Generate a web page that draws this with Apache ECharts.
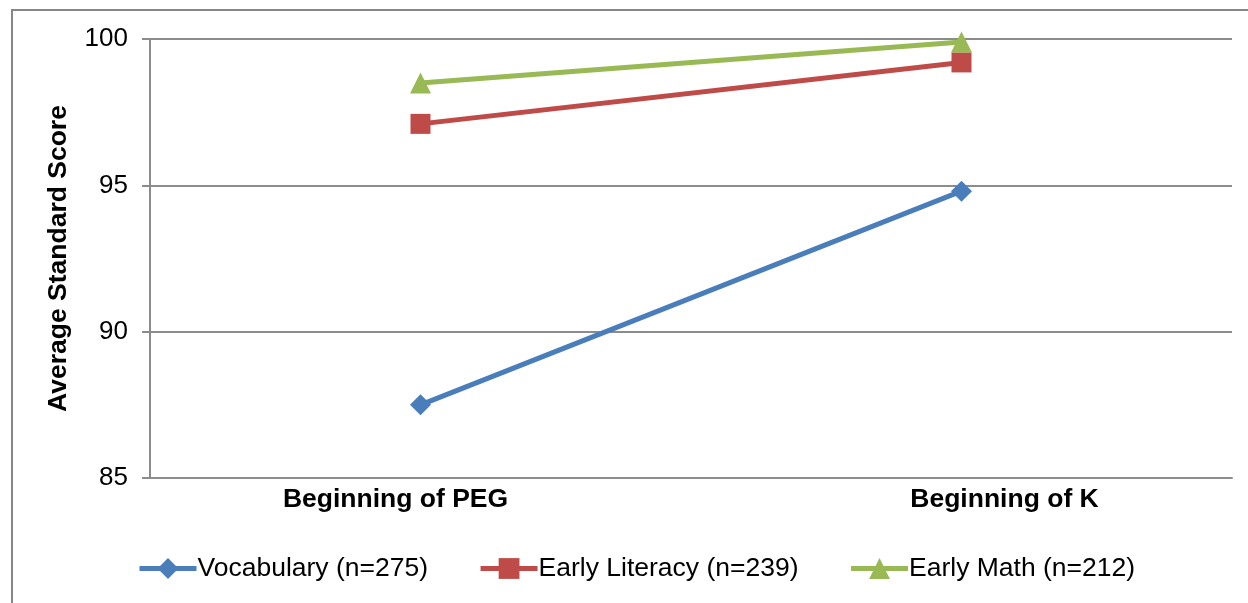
<!DOCTYPE html>
<html>
<head>
<meta charset="utf-8">
<script src="https://cdn.jsdelivr.net/npm/echarts@6/dist/echarts.min.js"></script>
<style>
html,body{margin:0;padding:0;background:#fff;}
#chart{width:1248px;height:603px;}
</style>
</head>
<body>
<div id="chart"></div>
<script>
const categories = ['Beginning of PEG', 'Beginning of K'];
const vocabulary = [87.5, 94.8];
const earlyLiteracy = [97.1, 99.2];
const earlyMath = [98.5, 99.9];
const seriesNames = ['Vocabulary (n=275)', 'Early Literacy (n=239)', 'Early Math (n=212)'];
const yTicks = {min: 85, max: 100, interval: 5};

const chart = echarts.init(document.getElementById('chart'), null, {renderer: 'canvas'});
const font = 'Liberation Sans, Arial, sans-serif';
const axisGray = '#8c8c8c';

function lineSeries(name, data, color, symbol, size) {
  return {
    name: name, type: 'line', data: data,
    symbol: symbol, symbolSize: size,
    lineStyle: {color: color, width: 5},
    itemStyle: {color: color},
    emphasis: {disabled: true},
    z: 3
  };
}

const labelStyle = {fontFamily: font, fontSize: 26.5, fontWeight: 'bold', color: '#000'};

chart.setOption({
  animation: false,
  backgroundColor: '#fff',
  graphic: [
    {type: 'line', shape: {x1: 11, y1: 10, x2: 1248, y2: 10}, style: {stroke: '#878787', lineWidth: 2}},
    {type: 'line', shape: {x1: 12, y1: 9, x2: 12, y2: 603}, style: {stroke: '#878787', lineWidth: 2}}
  ],
  grid: {left: 150, right: 16, top: 39, bottom: 125, containLabel: false},
  legend: {
    left: 137, top: 555, padding: 0,
    itemWidth: 57, itemHeight: 26, itemGap: 50,
    lineStyle: {width: 5},
    textStyle: {fontFamily: font, fontSize: 26.5, color: '#000', padding: [0, 0, 0, -4]},
    data: seriesNames
  },
  xAxis: {
    type: 'category', data: categories, boundaryGap: true,
    axisLine: {lineStyle: {color: axisGray, width: 2}},
    axisTick: {show: false},
    axisLabel: {
      margin: 8,
      formatter: function (v, i) { return (i === 0 ? '{a|' : '{b|') + v + '}'; },
      rich: {
        a: Object.assign({padding: [0, 50, 0, 0]}, labelStyle),
        b: Object.assign({padding: [0, 0, 0, 86]}, labelStyle)
      }
    },
    splitLine: {show: false}
  },
  yAxis: {
    type: 'value', min: yTicks.min, max: yTicks.max, interval: yTicks.interval,
    name: 'Average Standard Score', nameLocation: 'middle', nameRotate: 90, nameGap: 78,
    nameTextStyle: {fontFamily: font, fontSize: 26.5, fontWeight: 'bold', color: '#000'},
    axisLine: {show: true, lineStyle: {color: axisGray, width: 2}},
    axisTick: {show: true, length: 8, lineStyle: {color: axisGray, width: 2}},
    axisLabel: {fontFamily: font, fontSize: 26, color: '#000', margin: 22},
    splitLine: {show: true, lineStyle: {color: axisGray, width: 2}}
  },
  series: [
    lineSeries(seriesNames[0], vocabulary, '#4a7ebb', 'diamond', 21),
    lineSeries(seriesNames[1], earlyLiteracy, '#be4b48', 'rect', 20),
    lineSeries(seriesNames[2], earlyMath, '#98b954', 'triangle', 21)
  ]
});
</script>
</body>
</html>
